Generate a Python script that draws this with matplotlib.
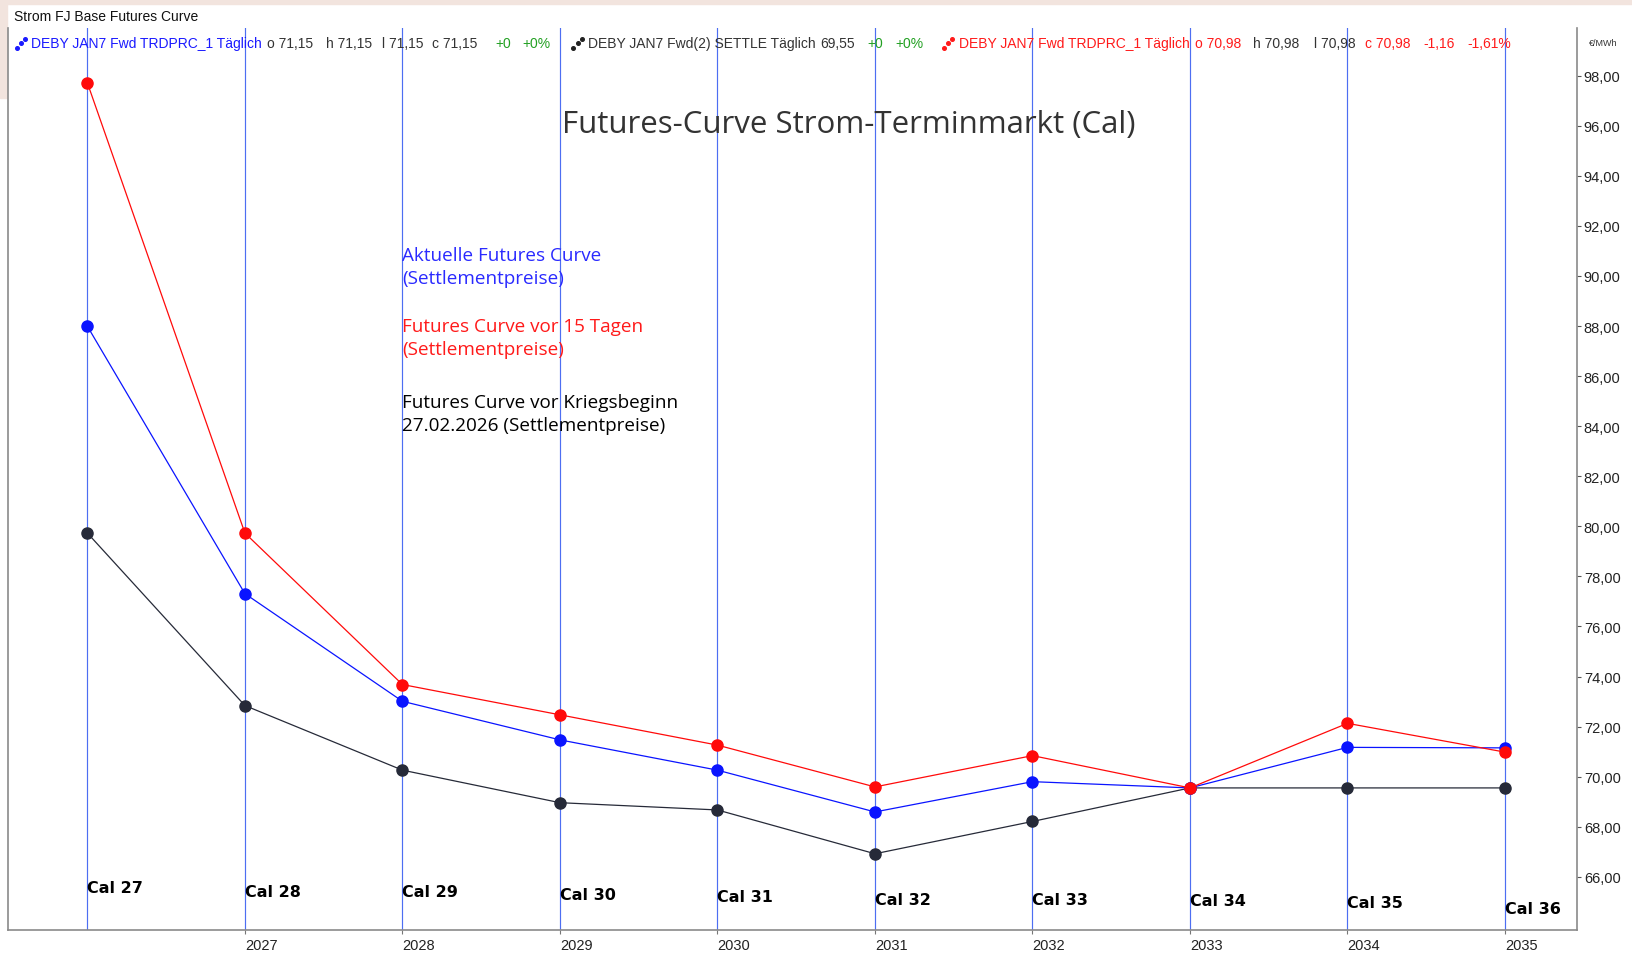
import matplotlib.pyplot as plt
from matplotlib.lines import Line2D
from matplotlib.patches import Rectangle
from matplotlib.ticker import FuncFormatter, MultipleLocator

# Futures-Kurven (EUR/MWh), Cal 27 .. Cal 36
contracts = ['Cal 27', 'Cal 28', 'Cal 29', 'Cal 30', 'Cal 31',
             'Cal 32', 'Cal 33', 'Cal 34', 'Cal 35', 'Cal 36']
aktuell = [87.99, 77.31, 73.01, 71.47, 70.26, 68.59, 69.80, 69.55, 71.17, 71.15]
vor_15_tagen = [97.71, 79.73, 73.68, 72.47, 71.26, 69.59, 70.84, 69.55, 72.13, 70.98]
vor_krieg = [79.73, 72.84, 70.26, 68.96, 68.67, 66.92, 68.21, 69.55, 69.55, 69.55]
label_y = [65.58, 65.42, 65.42, 65.29, 65.21, 65.08, 65.08, 65.04, 64.96, 64.75]
years = ['2027', '2028', '2029', '2030', '2031', '2032', '2033', '2034', '2035']

# Positionen gemessen in einem 1568x917 Raster
W, H = 1568, 917
def px(x, y):
    return x / W, 1 - y / H

fig = plt.figure(figsize=(16.32, 9.54), dpi=100)
fig.patch.set_facecolor('white')
# hellrosa Rand oben/links (Screenshot)
fig.add_artist(Rectangle((0, 1 - 5 / H), 1, 5 / H, transform=fig.transFigure,
                         color='#f2e4de', zorder=0))
fig.add_artist(Rectangle((0, 1 - 95 / H), 7 / W, 95 / H, transform=fig.transFigure,
                         color='#f2e4de', zorder=0))

left, right, bottom, top = 8, 1515, 895, 28
ax = fig.add_axes([left / W, 1 - bottom / H, (right - left) / W, (bottom - top) / H])

x = list(range(len(contracts)))
for xi in x:
    ax.axvline(xi, color='#4d6ef2', lw=0.85, zorder=1)

ax.plot(x, vor_krieg, color='#262a38', lw=0.9, marker='o', ms=8, zorder=3)
ax.plot(x, aktuell, color='#0a14ff', lw=0.9, marker='o', ms=8, zorder=4)
ax.plot(x, vor_15_tagen, color='#ff0a0a', lw=0.9, marker='o', ms=8, zorder=5)

for xi, name, ly in zip(x, contracts, label_y):
    ax.text(xi, ly, name, ha='left', va='center', fontsize=11.5, fontweight='bold',
            family=['Liberation Sans Narrow', 'DejaVu Sans'], color='black')

ax.text(2, 90.37, 'Aktuelle Futures Curve\n(Settlementpreise)', color='#2a2aff',
        fontsize=13.6, family='Open Sans', va='center', ha='left', linespacing=1.36)
ax.text(2, 87.53, 'Futures Curve vor 15 Tagen\n(Settlementpreise)', color='#ff1a1a',
        fontsize=13.6, family='Open Sans', va='center', ha='left', linespacing=1.36)
ax.text(2, 84.52, 'Futures Curve vor Kriegsbeginn\n27.02.2026 (Settlementpreise)',
        color='black', fontsize=13.6, family='Open Sans', va='center', ha='left',
        linespacing=1.36)

ax.set_xlim(-0.502, 9.456)
ax.set_ylim(63.87, 99.9)

ax.yaxis.tick_right()
ax.yaxis.set_major_locator(MultipleLocator(2))
ax.yaxis.set_major_formatter(FuncFormatter(lambda v, p: f'{v:.2f}'.replace('.', ',')))
ax.tick_params(axis='y', length=3, color='#555555', labelsize=10.5, labelcolor='#222222',
               pad=2)
ax.set_yticks([v for v in range(66, 99, 2)])
for lab in ax.get_yticklabels():
    lab.set_family('Liberation Sans')

ax.set_xticks(x[1:])
ax.set_xticklabels(years, ha='left', fontsize=10.5, color='#222222', family='Liberation Sans')
ax.tick_params(axis='x', length=3, color='#777777', pad=3)

for s in ['left', 'bottom', 'right']:
    ax.spines[s].set_color('#8a8a8a')
    ax.spines[s].set_linewidth(1.2)
ax.spines['top'].set_visible(False)

# Kopfzeile
fig.text(*px(13, 16), 'Strom FJ Base Futures Curve', fontsize=10, family='Liberation Sans',
         color='#111111', va='center')
fig.text(*px(1527, 42), '€/MWh', fontsize=6.5, family='Liberation Sans', color='#333333',
         va='center')

def icon(x0, y0, color):
    xs = [x0, x0 + 4, x0 + 8]
    ys = [y0 + 5, y0, y0 - 4]
    fx = [v / W for v in xs]
    fy = [1 - v / H for v in ys]
    fig.add_artist(Line2D(fx, fy, transform=fig.transFigure, ls='none', marker='o',
                          ms=2.6, color=color))

dark, green, blue, red = '#333333', '#22a022', '#1a1aff', '#ff1a1a'
hdr = [
    (30, 'DEBY JAN7 Fwd TRDPRC_1 Täglich', blue),
    (257, 'o 71,15', dark), (313, 'h 71,15', dark), (367, 'l 71,15', dark),
    (415, 'c 71,15', dark), (476, '+0', green), (502, '+0%', green),
    (565, 'DEBY JAN7 Fwd(2) SETTLE Täglich', dark),
    (788, '69,55', dark), (833, '+0', green), (860, '+0%', green),
    (921, 'DEBY JAN7 Fwd TRDPRC_1 Täglich', red),
    (1148, 'o 70,98', red), (1204, 'h 70,98', dark), (1262, 'l 70,98', dark),
    (1311, 'c 70,98', red), (1368, '-1,16', red), (1410, '-1,61%', red),
]
for xp, txt, col in hdr:
    fig.text(*px(xp, 42), txt, fontsize=10, family='Liberation Sans', color=col, va='center')
icon(16, 42, blue)
icon(551, 42, '#222222')
icon(907, 42, red)

fig.text(*px(815, 120), 'Futures-Curve Strom-Terminmarkt (Cal)', fontsize=22.5,
         family='Open Sans', color='#333333', ha='center', va='center')

fig.savefig('out.png', dpi=100)
